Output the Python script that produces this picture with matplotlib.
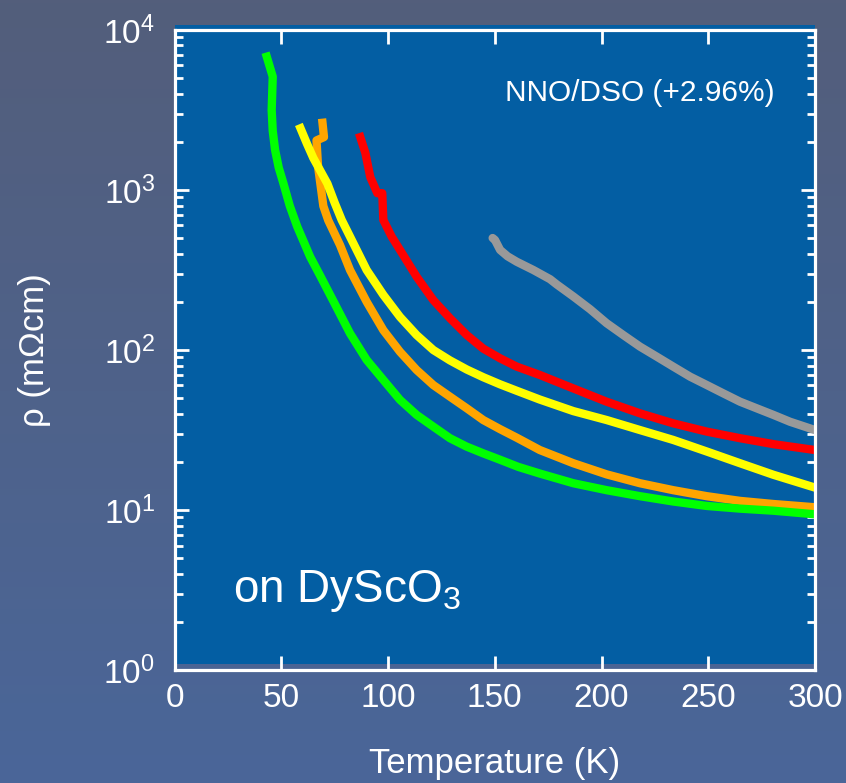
import numpy as np
import matplotlib
matplotlib.use("Agg")
import matplotlib.pyplot as plt
from matplotlib.patches import Rectangle
from matplotlib.ticker import LogLocator, NullFormatter

plt.rcParams["font.family"] = ["Liberation Sans", "DejaVu Sans"]
plt.rcParams["mathtext.fontset"] = "custom"
plt.rcParams["mathtext.rm"] = "Liberation Sans"
plt.rcParams["mathtext.it"] = "Liberation Sans:italic"
plt.rcParams["mathtext.bf"] = "Liberation Sans:bold"

# resistivity curves (T in K, rho in mOhm cm)
t_green = [43.2, 46.0, 45.5, 46.0, 47.1, 48.8, 51.0, 54.0, 57.5, 63.5, 68.0, 74.4,
           82.2, 90.0, 97.8, 105.6, 113.4, 121.2, 129.0, 136.8, 144.6, 152.5, 161.0,
           171.1, 186.8, 202.4, 218.0, 233.6, 249.3, 264.9, 280.5, 300.0]
rho_green = [6810, 5110, 3160, 2340, 1780, 1380, 1100, 794, 589, 383, 295, 202,
             127, 86.7, 65.0, 48.8, 39.3, 33.2, 28.1, 24.9, 22.6, 20.6, 18.6,
             16.9, 14.7, 13.3, 12.2, 11.3, 10.6, 10.2, 9.9, 9.4]

t_orange = [69.3, 70.0, 66.5, 67.2, 68.3, 69.7, 72.0, 77.5, 82.2, 90.0, 97.8, 105.6,
            113.4, 121.2, 129.0, 136.9, 144.6, 152.5, 160.3, 171.1, 186.8, 202.4,
            218.0, 233.6, 249.3, 264.9, 280.5, 300.0]
rho_orange = [2630, 2140, 2040, 1410, 1096, 794, 646, 453, 316, 200, 133, 97.5,
              75.0, 60.4, 51.1, 43.2, 36.5, 32.0, 28.3, 23.7, 19.6, 16.7,
              14.7, 13.3, 12.2, 11.4, 10.9, 10.4]

t_yellow = [59.0, 62.0, 65.0, 68.3, 71.6, 75.0, 78.3, 82.2, 90.0, 97.8, 105.6, 113.4,
            121.2, 129.0, 136.9, 144.6, 152.5, 160.3, 171.1, 186.8, 202.4, 218.0,
            233.6, 249.3, 264.9, 280.5, 300.0]
rho_yellow = [2430, 1950, 1585, 1318, 1096, 832, 649, 511, 316, 221, 161, 124,
              100, 86.1, 75.5, 67.6, 61.0, 55.6, 49.0, 41.5, 36.5, 31.6,
              27.4, 23.2, 19.6, 16.6, 13.8]

t_red = [87.0, 89.4, 91.7, 95.0, 97.3, 97.8, 101.7, 105.6, 113.4, 121.2, 129.0, 136.9,
         144.6, 152.5, 160.3, 171.1, 186.8, 202.4, 218.0, 233.6, 249.3, 264.9,
         280.5, 300.0]
rho_red = [2140, 1700, 1202, 955, 955, 649, 511, 422, 287, 205, 158, 124,
           102, 88.7, 78.7, 69.8, 57.5, 47.5, 40.2, 34.8, 30.9, 28.1,
           25.8, 23.7]

t_gray = [149.0, 150.1, 152.5, 156.0, 160.3, 168.1, 175.9, 179.0, 186.8, 194.6, 202.4,
          210.2, 218.0, 225.9, 233.6, 241.5, 249.3, 257.0, 264.9, 272.7, 280.5, 288.3,
          300.0]
rho_gray = [501, 487, 422, 385, 356, 316, 277, 257, 216, 180, 147,
            124, 105, 90.8, 78.7, 68.1, 60.4, 53.6, 47.5, 43.2, 39.3, 35.6,
            31.6]

x_ticks = [0, 50, 100, 150, 200, 250, 300]

fig = plt.figure(figsize=(8.46, 7.83), dpi=100)

# background gradient
bg = fig.add_axes([0, 0, 1, 1], zorder=-10)
top = np.array([0x53, 0x5e, 0x7b]) / 255
bot = np.array([0x4a, 0x66, 0x99]) / 255
grad = np.linspace(0, 1, 256)[:, None, None]
img = top * (1 - grad) + bot * grad
bg.imshow(np.repeat(img, 2, axis=1), aspect="auto", extent=[0, 1, 0, 1])
bg.axis("off")

ax = fig.add_axes([0.2063, 0.1443, 0.7571, 0.8174])
ax.patch.set_visible(False)
ax.add_patch(Rectangle((0, 0.009), 1, 0.999, transform=ax.transAxes,
                       facecolor="#035ea3", edgecolor="none", zorder=0, clip_on=False))

lw = 6
style = dict(lw=lw, solid_joinstyle="round")
ax.plot(t_orange, rho_orange, color="#ffa500", zorder=2, **style)
ax.plot(t_yellow, rho_yellow, color="#ffff00", zorder=3, **style)
ax.plot(t_green, rho_green, color="#00ff00", zorder=4, **style)
ax.plot(t_red, rho_red, color="#ff0000", zorder=4, **style)
ax.plot(t_gray, rho_gray, color="#999999", zorder=4, solid_capstyle="round", **style)

ax.set_yscale("log")
ax.set_xlim(0, 300)
ax.set_ylim(1, 1e4)
ax.set_xticks(x_ticks)
ax.yaxis.set_minor_locator(LogLocator(base=10, subs=np.arange(2, 10)))
ax.yaxis.set_minor_formatter(NullFormatter())

for s in ax.spines.values():
    s.set_color("white")
    s.set_linewidth(2.3)
    s.set_zorder(6)

ax.tick_params(which="both", direction="in", top=True, right=True, colors="white")
ax.tick_params(which="major", length=10, width=2)
ax.tick_params(which="minor", length=6, width=2)
ax.tick_params(axis="x", labelsize=24, pad=9)
ax.tick_params(axis="y", labelsize=24, pad=14)

ax.set_xlabel("Temperature (K)", color="white", fontsize=25, labelpad=24)
ax.set_ylabel("ρ (mΩcm)", color="white", fontsize=25, labelpad=38)

ax.text(0.9375, 0.902, "NNO/DSO (+2.96%)", transform=ax.transAxes, color="white",
        fontsize=21.5, ha="right", va="center")
ax.text(0.091, 0.106, "on DyScO$_3$", transform=ax.transAxes, color="white",
        fontsize=33, ha="left", va="baseline")

fig.savefig("out.png", dpi=100)
